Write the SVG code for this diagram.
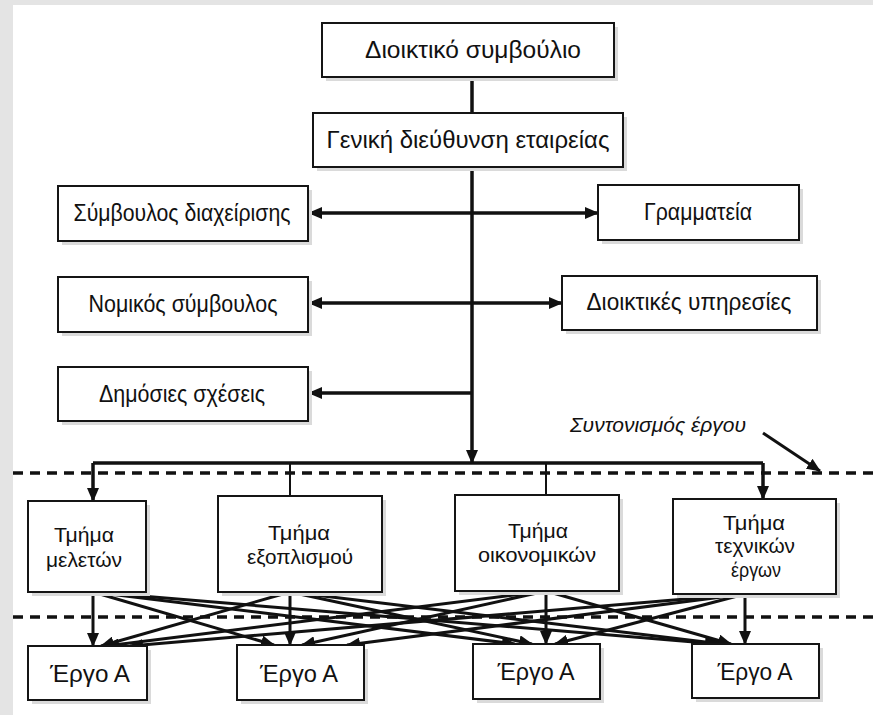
<svg xmlns="http://www.w3.org/2000/svg" width="873" height="715" viewBox="0 0 873 715">
<style>
.box{fill:#fff;stroke:#151515;stroke-width:2}
.sh{fill:#dadada}
.t{font-family:"Liberation Sans",Arial,sans-serif;font-size:23.5px;fill:#111;text-anchor:middle}
.td{font-family:"Liberation Sans",Arial,sans-serif;font-size:21px;fill:#111;text-anchor:middle}
.ti{font-family:"Liberation Sans",Arial,sans-serif;font-size:21px;font-style:italic;fill:#111;text-anchor:middle}
.ln{stroke:#111;fill:none;stroke-width:3.5}
.thin{stroke:#111;fill:none;stroke-width:2}
.x{stroke:#111;fill:none;stroke-width:3}
.dash{stroke:#111;fill:none;stroke-width:3.5;stroke-dasharray:10 7}
</style>
<defs>
<marker id="ah" viewBox="0 0 14 12" refX="13" refY="6" markerWidth="14" markerHeight="12" markerUnits="userSpaceOnUse" orient="auto-start-reverse">
<path d="M0,0 L14,6 L0,12 z" fill="#111"/>
</marker>
</defs>
<rect x="0" y="0" width="873" height="715" fill="#e4e4e4"/>
<rect x="13" y="5" width="860" height="710" fill="#fff"/>

<g id="guides">
<path class="dash" d="M13,473 H873"/>
<path class="dash" d="M13,617 H873"/>
</g>

<g id="connectors">
<path class="ln" d="M472,77 V113" stroke-width="4"/>
<path class="ln" d="M472,167 V463" stroke-width="4" marker-end="url(#ah)"/>
<path class="ln" d="M309,213 H598" marker-start="url(#ah)" marker-end="url(#ah)"/>
<path class="ln" d="M309,303 H562" marker-start="url(#ah)" marker-end="url(#ah)"/>
<path class="ln" d="M472,393 H309" marker-end="url(#ah)"/>
<path class="ln" d="M93,463 H763"/>
<path class="ln" d="M93,463 V501" marker-end="url(#ah)"/>
<path class="ln" d="M763,463 V499" marker-end="url(#ah)"/>
<path class="thin" d="M290,463 V496"/>
<path class="thin" d="M546,463 V495"/>
<path class="x" d="M763,433 L820,471" marker-end="url(#ah)"/>
<!-- from Τμήμα μελετών -->
<path class="x" d="M93,592 V646" marker-end="url(#ah)"/>
<path class="x" d="M93,592 L274,645" marker-end="url(#ah)"/>
<path class="x" d="M93,592 L515,644" marker-end="url(#ah)"/>
<path class="x" d="M93,592 L718,644" marker-end="url(#ah)"/>
<!-- from Τμήμα εξοπλισμού -->
<path class="x" d="M290,592 L101,646" marker-end="url(#ah)"/>
<path class="x" d="M290,592 V645" marker-end="url(#ah)"/>
<path class="x" d="M290,592 L532,644" marker-end="url(#ah)"/>
<path class="x" d="M290,592 L722,644" marker-end="url(#ah)"/>
<!-- from Τμήμα οικονομικών -->
<path class="x" d="M546,591 L106,646" marker-end="url(#ah)"/>
<path class="x" d="M546,591 L302,645" marker-end="url(#ah)"/>
<path class="x" d="M546,591 V644" marker-end="url(#ah)"/>
<path class="x" d="M546,591 L731,644" marker-end="url(#ah)"/>
<!-- from Τμήμα τεχνικών έργων -->
<path class="x" d="M745,594 L130,646" marker-end="url(#ah)"/>
<path class="x" d="M745,594 L347,645" marker-end="url(#ah)"/>
<path class="x" d="M745,594 L555,644" marker-end="url(#ah)"/>
<path class="x" d="M745,594 V644" marker-end="url(#ah)"/>
</g>

<g id="n-board"><rect class="sh" x="326" y="27" width="292" height="54"/><rect class="box" x="322" y="23" width="292" height="54"/><text class="t" x="473" y="58" textLength="216" lengthAdjust="spacingAndGlyphs">Διοικτικό συμβούλιο</text></g>
<g id="n-general"><rect class="sh" x="317" y="117" width="310" height="54"/><rect class="box" x="313" y="113" width="310" height="54"/><text class="t" x="468" y="148" textLength="283" lengthAdjust="spacingAndGlyphs">Γενική διεύθυνση εταιρείας</text></g>
<g id="n-advisor"><rect class="sh" x="62" y="190" width="250" height="55"/><rect class="box" x="58" y="186" width="250" height="55"/><text class="t" x="182" y="221" textLength="217" lengthAdjust="spacingAndGlyphs">Σύμβουλος διαχείρισης</text></g>
<g id="n-secretariat"><rect class="sh" x="602" y="189" width="201" height="55"/><rect class="box" x="598" y="185" width="201" height="55"/><text class="t" x="698" y="220" textLength="108" lengthAdjust="spacingAndGlyphs">Γραμματεία</text></g>
<g id="n-legal"><rect class="sh" x="62" y="281" width="250" height="55"/><rect class="box" x="58" y="277" width="250" height="55"/><text class="t" x="183" y="312" textLength="189" lengthAdjust="spacingAndGlyphs">Νομικός σύμβουλος</text></g>
<g id="n-admin"><rect class="sh" x="566" y="280" width="255" height="54"/><rect class="box" x="562" y="276" width="255" height="54"/><text class="t" x="689" y="310" textLength="205" lengthAdjust="spacingAndGlyphs">Διοικτικές υπηρεσίες</text></g>
<g id="n-pr"><rect class="sh" x="62" y="371" width="250" height="54"/><rect class="box" x="58" y="367" width="250" height="54"/><text class="t" x="182" y="402" textLength="166" lengthAdjust="spacingAndGlyphs">Δημόσιες σχέσεις</text></g>

<g id="n-studies"><rect class="sh" x="32" y="505" width="118" height="91"/><rect class="box" x="28" y="501" width="118" height="91"/><text class="td" x="84" y="542" textLength="60" lengthAdjust="spacingAndGlyphs">Τμήμα</text><text class="td" x="84" y="567" textLength="76" lengthAdjust="spacingAndGlyphs">μελετών</text></g>
<g id="n-equipment"><rect class="sh" x="222" y="500" width="164" height="96"/><rect class="box" x="218" y="496" width="164" height="96"/><text class="td" x="299" y="540" textLength="62" lengthAdjust="spacingAndGlyphs">Τμήμα</text><text class="td" x="300" y="564" textLength="106" lengthAdjust="spacingAndGlyphs">εξοπλισμού</text></g>
<g id="n-finance"><rect class="sh" x="459" y="499" width="164" height="96"/><rect class="box" x="455" y="495" width="164" height="96"/><text class="td" x="538" y="538" textLength="60" lengthAdjust="spacingAndGlyphs">Τμήμα</text><text class="td" x="537" y="562" textLength="118" lengthAdjust="spacingAndGlyphs">οικονομικών</text></g>
<g id="n-technical"><rect class="sh" x="677" y="503" width="163" height="95"/><rect class="box" x="673" y="499" width="163" height="95"/><text class="td" x="754" y="530" textLength="62" lengthAdjust="spacingAndGlyphs">Τμήμα</text><text class="td" x="755" y="553" textLength="80" lengthAdjust="spacingAndGlyphs">τεχνικών</text><text class="td" x="756" y="577" textLength="50" lengthAdjust="spacingAndGlyphs">έργων</text></g>

<g id="n-project1"><rect class="sh" x="32" y="650" width="119" height="54"/><rect class="box" x="28" y="646" width="119" height="54"/><text class="t" x="90" y="682" textLength="80" lengthAdjust="spacingAndGlyphs">Έργο Α</text></g>
<g id="n-project2"><rect class="sh" x="241" y="649" width="127" height="55"/><rect class="box" x="237" y="645" width="127" height="55"/><text class="t" x="299" y="682" textLength="78" lengthAdjust="spacingAndGlyphs">Έργο Α</text></g>
<g id="n-project3"><rect class="sh" x="477" y="648" width="127" height="55"/><rect class="box" x="473" y="644" width="127" height="55"/><text class="t" x="536" y="680" textLength="77" lengthAdjust="spacingAndGlyphs">Έργο Α</text></g>
<g id="n-project4"><rect class="sh" x="696" y="648" width="127" height="54"/><rect class="box" x="692" y="644" width="127" height="54"/><text class="t" x="755" y="680" textLength="75" lengthAdjust="spacingAndGlyphs">Έργο Α</text></g>

<g id="label-coordination"><text class="ti" x="658" y="432" textLength="176" lengthAdjust="spacingAndGlyphs">Συντονισμός έργου</text></g>
</svg>
